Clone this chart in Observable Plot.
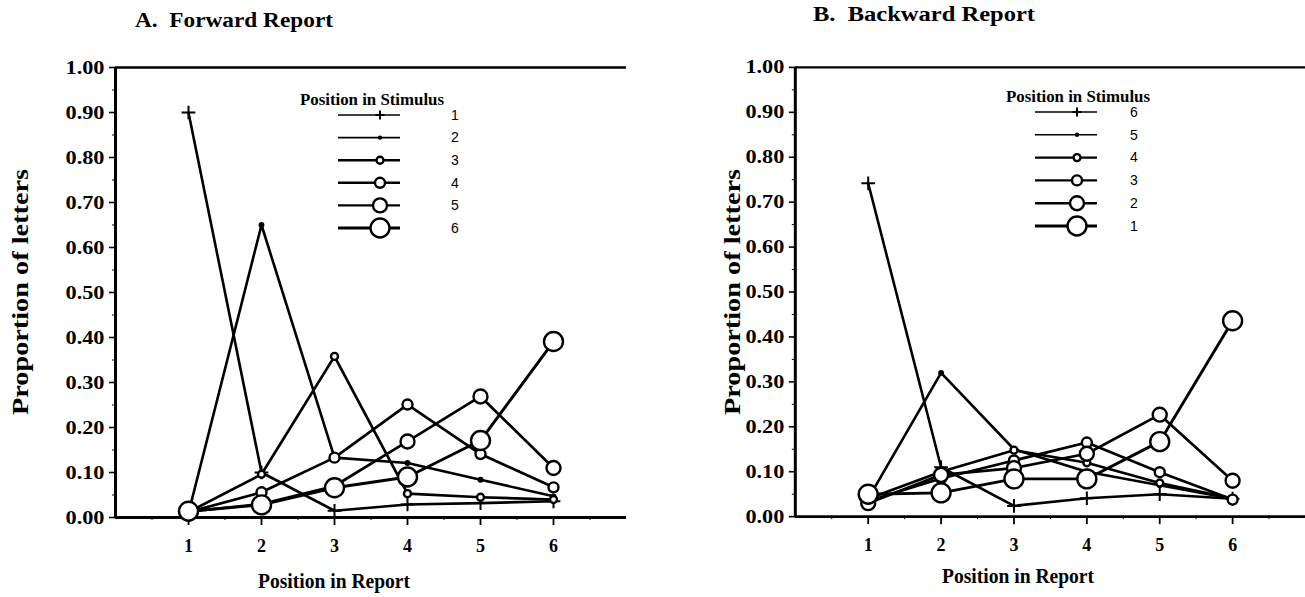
<!DOCTYPE html>
<html>
<head>
<meta charset="utf-8">
<script src="https://cdn.jsdelivr.net/npm/d3@7"></script>
<script src="https://cdn.jsdelivr.net/npm/@observablehq/plot@0.6"></script>
<style>
  html, body { margin: 0; padding: 0; background: #fff; }
  #wrap { position: relative; width: 1305px; height: 597px; overflow: hidden; background: #fff; }
  .panel { position: absolute; top: 0; }
</style>
</head>
<body>
<div id="wrap"></div>
<script>
// ---------- data ----------
const positions = [1, 2, 3, 4, 5, 6];
const yTicks = [0, 0.1, 0.2, 0.3, 0.4, 0.5, 0.6, 0.7, 0.8, 0.9, 1.0];

// Panel A: Forward report (series = position in stimulus)
const fwdNames = ["1", "2", "3", "4", "5", "6"];
const fwd1 = [0.90, 0.10, 0.015, 0.029, 0.032, 0.036];
const fwd2 = [0.010, 0.65, 0.133, 0.121, 0.084, 0.047];
const fwd3 = [0.012, 0.096, 0.358, 0.053, 0.045, 0.040];
const fwd4 = [0.012, 0.056, 0.133, 0.251, 0.141, 0.067];
const fwd5 = [0.013, 0.030, 0.070, 0.169, 0.269, 0.110];
const fwd6 = [0.014, 0.028, 0.066, 0.090, 0.171, 0.391];

// Panel B: Backward report (legend order 6,5,4,3,2,1)
const bwdNames = ["6", "5", "4", "3", "2", "1"];
const bwd6 = [0.742, 0.110, 0.024, 0.041, 0.050, 0.040];
const bwd5 = [0.040, 0.320, 0.150, 0.100, 0.070, 0.040];
const bwd4 = [0.040, 0.100, 0.148, 0.120, 0.075, 0.040];
const bwd3 = [0.035, 0.085, 0.125, 0.165, 0.099, 0.038];
const bwd2 = [0.030, 0.093, 0.108, 0.140, 0.227, 0.080];
const bwd1 = [0.050, 0.053, 0.084, 0.084, 0.167, 0.436];

// marker style by legend rank (0..5)
const markerKind = ["plus", "dot", "circle", "circle", "circle", "circle"];
const markerR    = [4.5, 2.2, 3.5, 5, 7, 9.5];
const lineW      = [2.6, 2.6, 2.7, 2.7, 2.7, 2.9];
const legendLineW = [1.6, 1.6, 2.4, 2.4, 2.4, 2.9];

const serif = "'Liberation Serif', 'DejaVu Serif', serif";
const sans = "'Liberation Sans', 'DejaVu Sans', sans-serif";

function buildSeries(names, arrays) {
  return names.map((name, rank) => ({
    name, rank,
    points: positions.map((p, i) => ({ pos: p, value: arrays[rank][i], series: name }))
  }));
}

function makeChart(series, width, marginRight) {
  const marks = [
    Plot.axisY({ ticks: yTicks, tickFormat: d3.format(".2f"), tickSize: 6, tickPadding: 5,
                label: null, fontSize: 19, fontWeight: "bold", strokeWidth: 1.6 }),
    Plot.axisY({ ticks: d3.range(0.05, 1, 0.1), tickFormat: () => "", tickSize: 3, label: null }),
    Plot.axisX({ ticks: positions, tickFormat: d3.format("d"), tickSize: 8, tickPadding: 14, label: null,
                 fontSize: 18, fontWeight: "bold", strokeWidth: 1.8 }),
    Plot.axisX({ ticks: d3.range(0.5, 7, 1), tickFormat: () => "", tickSize: 3, label: null }),
    Plot.ruleX([0], { y1: 0, y2: 1, stroke: "#000", strokeWidth: 3 }),
    Plot.ruleY([0], { stroke: "#000", strokeWidth: 2.8 }),
    Plot.ruleY([1], { stroke: "#000", strokeWidth: 2.4 })
  ];
  for (const s of series) {
    marks.push(Plot.line(s.points, { x: "pos", y: "value", stroke: "#000", strokeWidth: lineW[s.rank] }));
  }
  for (const s of series) {
    const k = markerKind[s.rank];
    if (k === "plus") {
      marks.push(Plot.dot(s.points, { x: "pos", y: "value", symbol: "plus", r: markerR[s.rank], stroke: "#000", strokeWidth: 2 }));
    } else if (k === "dot") {
      marks.push(Plot.dot(s.points, { x: "pos", y: "value", r: markerR[s.rank], fill: "#000", stroke: "#000" }));
    } else {
      marks.push(Plot.dot(s.points, { x: "pos", y: "value", r: markerR[s.rank], fill: "#fff", stroke: "#000", strokeWidth: 2.4 }));
    }
  }
  const svg = Plot.plot({
    width, height: 597,
    marginLeft: 115, marginRight, marginTop: 67, marginBottom: 80,
    x: { domain: [0, 7] },
    y: { domain: [0, 1] },
    style: { fontFamily: serif, fontWeight: "bold", fontSize: "17px", background: "transparent", color: "#000" },
    marks
  });
  // widen the y tick labels slightly, like the scanned original
  d3.select(svg).selectAll("g[aria-label='y-axis tick label'] text")
    .filter(function () { return this.textContent.length > 0; })
    .attr("textLength", 39).attr("lengthAdjust", "spacingAndGlyphs");
  return svg;
}

const wrap = document.getElementById("wrap");
const seriesA = buildSeries(fwdNames, [fwd1, fwd2, fwd3, fwd4, fwd5, fwd6]);
const seriesB = buildSeries(bwdNames, [bwd6, bwd5, bwd4, bwd3, bwd2, bwd1]);

const divA = document.createElement("div"); divA.className = "panel"; divA.style.left = "0px";
divA.appendChild(makeChart(seriesA, 650, 24));
wrap.appendChild(divA);
const divB = document.createElement("div"); divB.className = "panel"; divB.style.left = "680px";
divB.appendChild(makeChart(seriesB, 626, 0));
wrap.appendChild(divB);

// ---------- overlay text & legends ----------
const ov = d3.select(wrap).append("svg")
  .attr("width", 1305).attr("height", 597)
  .style("position", "absolute").style("left", 0).style("top", 0)
  .style("pointer-events", "none");

function txt(x, y, s, size, opts = {}) {
  const t = ov.append("text").attr("x", x).attr("y", y).text(s)
    .attr("font-family", opts.family || serif).attr("font-weight", opts.weight || "bold")
    .attr("font-size", size).attr("text-anchor", opts.anchor || "start")
    .attr("dominant-baseline", "middle").attr("xml:space", "preserve").style("white-space", "pre");
  if (opts.len) t.attr("textLength", opts.len).attr("lengthAdjust", "spacingAndGlyphs");
  if (opts.rotate) t.attr("transform", `rotate(-90 ${x} ${y})`);
  return t;
}

txt(135, 22, "A.  Forward Report", 20, { len: 198 });
txt(813, 16, "B.  Backward Report", 20, { len: 222 });
txt(23, 292, "Proportion of letters", 23, { anchor: "middle", rotate: true, len: 246 });
txt(735, 292, "Proportion of letters", 23, { anchor: "middle", rotate: true, len: 246 });
txt(334, 583, "Position in Report", 20, { anchor: "middle", len: 152 });
txt(1018, 578, "Position in Report", 20, { anchor: "middle", len: 152 });

function legend(series, x0, titleY, lineX0, lineX1, markX, labelX, rowY0, rowDY) {
  txt(x0, titleY, "Position in Stimulus", 16, { len: 144 });
  series.forEach((s, i) => {
    const y = rowY0 + i * rowDY;
    ov.append("line").attr("x1", lineX0).attr("x2", lineX1).attr("y1", y).attr("y2", y)
      .attr("stroke", "#000").attr("stroke-width", legendLineW[s.rank]);
    const k = markerKind[s.rank], r = markerR[s.rank];
    if (k === "plus") {
      ov.append("path").attr("d", `M${markX - r},${y}H${markX + r}M${markX},${y - r}V${y + r}`)
        .attr("stroke", "#000").attr("stroke-width", 2);
    } else if (k === "dot") {
      ov.append("circle").attr("cx", markX).attr("cy", y).attr("r", r).attr("fill", "#000");
    } else {
      ov.append("circle").attr("cx", markX).attr("cy", y).attr("r", r)
        .attr("fill", "#fff").attr("stroke", "#000").attr("stroke-width", 2.4);
    }
    txt(labelX, y + 1, s.name, 14, { family: sans, weight: "normal", anchor: "middle" });
  });
}
legend(seriesA, 300, 101, 338, 400, 380, 455, 115, 22.6);
legend(seriesB, 1006, 98, 1035, 1097, 1077, 1134, 112, 22.8);
</script>
</body>
</html>
